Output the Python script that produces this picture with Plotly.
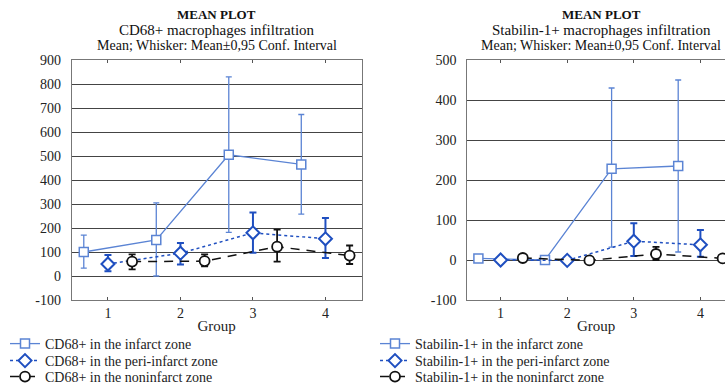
import plotly.graph_objects as go

W, H = 725, 386

groups = [1, 2, 3, 4]
x_ticks = [1, 2, 3, 4]
offsets = {"infarct": -1/3, "peri": 0.0, "non": 1/3}

# CD68+ (left)
cd68_infarct = [100, 150, 505, 465]
cd68_infarct_lo = [33, 0, 182, 258]
cd68_infarct_hi = [170, 305, 830, 673]
cd68_peri = [50, 95, 180, 155]
cd68_peri_lo = [20, 48, 97, 75]
cd68_peri_hi = [88, 137, 265, 242]
cd68_non = [60, 62, 122, 85]
cd68_non_lo = [28, 40, 60, 50]
cd68_non_hi = [90, 90, 193, 127]

# Stabilin-1+ (right)
stab_infarct = [4, 0, 228, 235]
stab_infarct_lo = [4, 0, 32, 20]
stab_infarct_hi = [4, 0, 430, 450]
stab_peri = [0, -1, 47, 38]
stab_peri_lo = [0, -1, 10, 8]
stab_peri_hi = [0, -1, 92, 75]
stab_non = [5, -1, 15, 4]
stab_non_lo = [3, -1, 0, 2]
stab_non_hi = [7, -1, 33, 6]

left_y_ticks = list(range(-100, 901, 100))
right_y_ticks = list(range(-100, 501, 100))

FONT = "Liberation Serif"
C_INF = "#5b84d4"
C_PERI = "#1f4fc0"
C_NON = "#111111"

fig = go.Figure()

def add_series(name, mean, lo, hi, kind, xaxis, yaxis, legend):
    xs = [g + offsets[kind] for g in groups]
    plus = [h - m for h, m in zip(hi, mean)]
    minus = [m - l for m, l in zip(mean, lo)]
    if kind == "infarct":
        line = dict(color=C_INF, width=1.3, dash="solid")
        marker = dict(symbol="square", size=9, color="white", line=dict(color=C_INF, width=1.5))
        err = dict(color=C_INF, thickness=1.3, width=3)
    elif kind == "peri":
        line = dict(color=C_PERI, width=1.5, dash="dot")
        marker = dict(symbol="diamond", size=10, color="white", line=dict(color=C_PERI, width=2))
        err = dict(color=C_PERI, thickness=2, width=3.5)
    else:
        line = dict(color=C_NON, width=1.5, dash="9px,7px")
        marker = dict(symbol="circle", size=10, color="white", line=dict(color=C_NON, width=1.8))
        err = dict(color=C_NON, thickness=1.8, width=3.5)
    fig.add_trace(go.Scatter(
        x=xs, y=mean, name=name, mode="lines+markers",
        line=line, marker=marker,
        error_y=dict(type="data", symmetric=False, array=plus, arrayminus=minus, **err),
        xaxis=xaxis, yaxis=yaxis, legend=legend, cliponaxis=True,
    ))

add_series("CD68+ in the infarct zone", cd68_infarct, cd68_infarct_lo, cd68_infarct_hi, "infarct", "x", "y", "legend")
add_series("CD68+ in the peri-infarct zone", cd68_peri, cd68_peri_lo, cd68_peri_hi, "peri", "x", "y", "legend2")
add_series("CD68+ in the noninfarct zone", cd68_non, cd68_non_lo, cd68_non_hi, "non", "x", "y", "legend3")
add_series("Stabilin-1+ in the infarct zone", stab_infarct, stab_infarct_lo, stab_infarct_hi, "infarct", "x2", "y2", "legend4")
add_series("Stabilin-1+ in the peri-infarct zone", stab_peri, stab_peri_lo, stab_peri_hi, "peri", "x2", "y2", "legend5")
add_series("Stabilin-1+ in the noninfarct zone", stab_non, stab_non_lo, stab_non_hi, "non", "x2", "y2", "legend6")

def px_x(p):
    return p / W

def px_y(p):
    return 1 - p / H

ydom = [px_y(300), px_y(60)]
tickfont = dict(family=FONT, size=14, color="#222")
grid = "#444444"

xcommon = dict(tickvals=x_ticks, ticktext=[str(t) for t in x_ticks], ticks="inside", ticklen=3,
               tickcolor="#555", showgrid=False, zeroline=False, showline=True, linecolor="#777",
               linewidth=1, tickfont=tickfont,
               title=dict(text="Group", font=dict(family=FONT, size=15, color="#222"), standoff=0))
ycommon = dict(showgrid=True, gridcolor=grid, gridwidth=1, zeroline=False, showline=True,
               linecolor="#777", linewidth=1, ticks="", tickfont=tickfont, ticklabelstandoff=7)

legend_font = dict(family=FONT, size=14, color="#222")
legend_rows = [344, 361, 377]
legends = {}
for i, ly in enumerate(legend_rows):
    for j, lx in enumerate([5, 375]):
        key = "legend" if (j == 0 and i == 0) else f"legend{j * 3 + i + 1}"
        legends[key] = dict(x=px_x(lx), y=px_y(ly), xanchor="left", yanchor="middle",
                            bgcolor="rgba(0,0,0,0)", font=legend_font, itemwidth=30,
                            borderwidth=0)

fig.update_layout(
    width=W, height=H, margin=dict(l=0, r=0, t=0, b=0, autoexpand=False),
    paper_bgcolor="white", plot_bgcolor="white",
    xaxis=dict(domain=[px_x(71.7), px_x(361.7)], range=[0.5, 4.5], mirror="ticks", anchor="y", **xcommon),
    yaxis=dict(domain=ydom, range=[-100, 900], tickvals=left_y_ticks,
               ticktext=[str(v) for v in left_y_ticks], mirror=True, anchor="x", **ycommon),
    xaxis2=dict(domain=[px_x(467.3), 1.0], range=[0.5, 0.5 + (725 - 467.3) / 66.6], mirror="ticks", anchor="y2", **xcommon),
    yaxis2=dict(domain=ydom, range=[-100, 500], tickvals=right_y_ticks,
                ticktext=[str(v) for v in right_y_ticks], mirror=False, anchor="x2", **ycommon),
    showlegend=True,
    hovermode=False,
    **legends,
)

titles = [
    (216.7, "CD68+ macrophages infiltration"),
    (601.0, "Stabilin-1+ macrophages infiltration"),
]
for cx, t2 in titles:
    for yy, txt, bold, fs in [(14, "MEAN PLOT", True, 13), (30, t2, False, 15),
                              (45.5, "Mean; Whisker: Mean\u00b10,95 Conf. Interval", False, 14)]:
        fig.add_annotation(x=px_x(cx), y=px_y(yy), xref="paper", yref="paper", xanchor="center", yanchor="middle",
                           text=f"<b>{txt}</b>" if bold else txt, showarrow=False,
                           font=dict(family=FONT, size=fs, color="#111"))

fig.write_html("out.html",
               config={"displayModeBar": False},
               post_script="document.body.style.margin='0';document.body.style.overflow='hidden';")
